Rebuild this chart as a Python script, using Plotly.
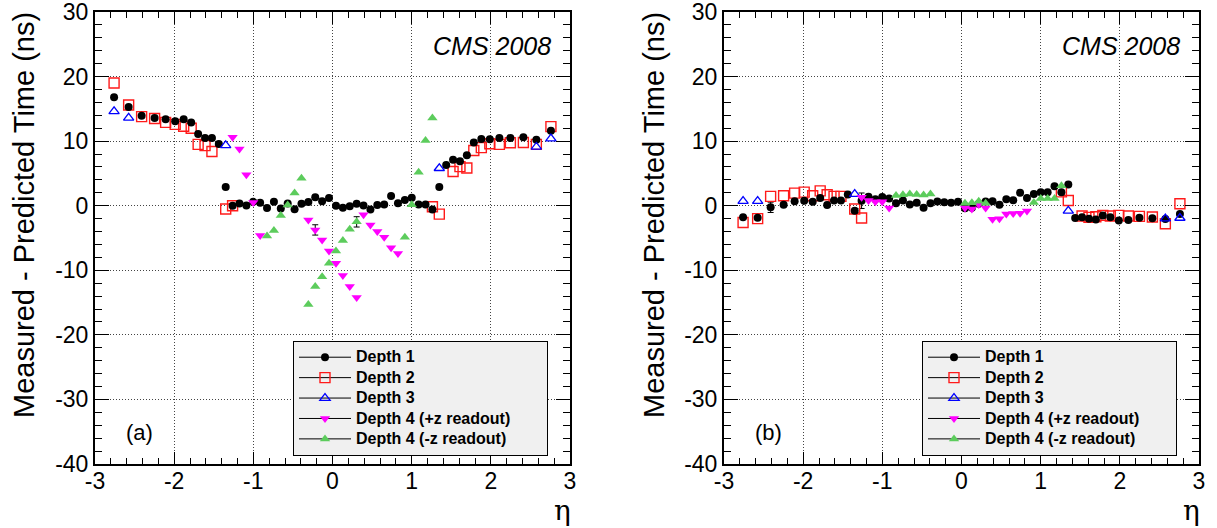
import plotly.graph_objects as go

# ---------------- data ----------------
# Panel (a)
a_d1_eta = [-2.759, -2.575, -2.411, -2.247, -2.108, -1.987, -1.880, -1.785, -1.697, -1.610, -1.523, -1.436,
            -1.349, -1.262, -1.175, -1.088, -1.001, -0.914, -0.827, -0.740, -0.653, -0.566, -0.479, -0.392,
            -0.305, -0.218, -0.131, -0.044, 0.044, 0.131, 0.218, 0.305, 0.392, 0.479, 0.566, 0.653, 0.740,
            0.827, 0.914, 1.001, 1.088, 1.175, 1.262, 1.349, 1.436, 1.523, 1.610, 1.697, 1.785, 1.880, 1.987,
            2.108, 2.247, 2.411, 2.575, 2.759]
a_d1_val = [16.8, 15.3, 13.95, 13.6, 13.4, 13.1, 13.4, 12.9, 11.1, 10.5, 10.5, 9.55,
            2.9, 0.0, 0.35, 0.05, 0.6, 0.45, -0.35, 0.6, -0.45, 0.35, -0.55, 0.3,
            0.56, 1.33, 0.7, 1.2, 0.0, -0.3, -0.1, 0.3, 0.05, -0.6, 0.1, 0.2, 1.5,
            0.4, 0.9, 1.25, 0.2, 0.2, -0.6, 2.9, 6.3, 7.1, 6.9, 7.8, 9.8, 10.35, 10.3,
            10.5, 10.5, 10.6, 10.2, 11.6]

a_d2_eta = [-2.759, -2.575, -2.411, -2.247, -2.108, -1.987, -1.880, -1.785, -1.697, -1.610, -1.523,
            -1.349, -1.262, 1.262, 1.349, 1.523, 1.610, 1.697, 1.785, 1.880, 1.987, 2.108, 2.247,
            2.411, 2.575, 2.759]
a_d2_val = [19.0, 15.6, 13.8, 13.5, 12.9, 12.6, 12.3, 12.0, 9.5, 9.3, 8.4,
            -0.5, 0.0, -0.15, -1.3, 5.3, 6.05, 5.85, 8.55, 9.0, 9.6, 9.5, 9.75,
            9.8, 9.5, 12.25]

a_d3_eta = [-2.759, -2.575, -1.349, 1.349, 2.575, 2.759]
a_d3_val = [14.6, 13.6, 9.35, 5.8, 9.1, 10.4]

a_d4p_eta = [-1.262, -1.175, -1.088, -1.001, -0.914, -0.305, -0.218, -0.131, -0.044, 0.044, 0.131,
             0.218, 0.305, 0.392, 0.479, 0.566, 0.653, 0.740, 0.827]
a_d4p_val = [10.6, 8.8, 4.8, 0.5, -4.6, -2.2, -3.75, -5.3, -7.0, -8.9, -10.8,
             -12.5, -14.2, -1.4, -3.0, -4.0, -4.9, -6.5, -7.4]

a_d4m_eta = [-0.827, -0.740, -0.653, -0.566, -0.479, -0.392, -0.305, -0.218, -0.131, -0.044, 0.044,
             0.131, 0.218, 0.305, 0.914, 1.001, 1.088, 1.175, 1.262]
a_d4m_val = [-4.7, -3.85, -1.5, 0.1, 1.95, 4.25, -15.3, -12.5, -11.0, -8.9, -7.0,
             -5.4, -3.65, -2.5, -4.9, 0.15, 5.2, 10.1, 13.6]

a_err_eta = [-0.218, 0.305]
a_err_val = [-3.75, -2.5]
a_err_size = [0.8, 0.8]

# Panel (b)
b_d1_eta = a_d1_eta
b_d1_val = [-1.8, -1.85, -0.25, 0.15, 0.7, 0.77, 0.6, 1.2, 0.1, 0.8, 0.8, 1.75,
            -0.77, 0.77, 1.4, 1.0, 1.35, 1.1, 0.4, 0.8, 0.2, 0.45, -0.3, 0.4,
            0.65, 0.55, 0.45, 0.6, -0.4, -0.3, 0.3, 0.65, 0.7, 0.15, 1.0, 0.85, 2.0,
            1.2, 1.8, 2.1, 2.1, 3.0, 2.1, 3.3, -1.9, -1.8, -2.0, -2.15, -1.5, -1.8, -2.3,
            -2.2, -1.85, -1.95, -2.05, -1.3]

b_d2_eta = a_d2_eta
b_d2_val = [-2.6, -2.0, 1.45, 1.55, 1.95, 2.1, 1.55, 2.3, 1.7, 1.45, 1.45,
            -0.5, -1.9, 2.15, 0.8, -1.6, -1.8, -1.7, -1.5, -1.6, -1.5, -1.6, -1.65,
            -1.75, -2.8, 0.3]

b_d3_eta = [-2.759, -2.575, -1.349, 1.349, 2.575, 2.759]
b_d3_val = [0.7, 0.7, 1.8, -0.8, -2.0, -1.9]

b_d4p_eta = [-1.262, -1.175, -1.088, -1.001, -0.914, 0.044, 0.131, 0.218, 0.305, 0.392, 0.479,
             0.566, 0.653, 0.740, 0.827]
b_d4p_val = [1.3, 0.8, 0.6, 0.6, -0.35, -0.35, -0.5, 0.2, -0.35, -2.1, -2.0,
             -1.3, -1.2, -1.15, -0.8]

b_d4m_eta = [-0.827, -0.740, -0.653, -0.566, -0.479, -0.392, 0.044, 0.131, 0.218, 0.305,
             0.914, 1.001, 1.088, 1.175, 1.262]
b_d4m_val = [1.6, 1.7, 1.8, 1.75, 1.65, 1.8, 0.4, 0.45, 0.7, 0.4,
             0.5, 1.1, 1.1, 1.1, 3.1]

b_err_eta = [-2.411, -1.262]
b_err_val = [-0.25, 0.77]
b_err_size = [0.8, 1.2]

legend_names = ["Depth 1", "Depth 2", "Depth 3", "Depth 4 (+z readout)", "Depth 4 (-z readout)"]
x_ticks = [-3, -2, -1, 0, 1, 2, 3]
x_ticktext = ["-3", "-2", "-1", "0", "1", "2", "3"]
y_ticks = [-40, -30, -20, -10, 0, 10, 20, 30]
y_ticktext = ["-40", "-30", "-20", "-10", "0", "10", "20", "30"]
panel_labels = ["(a)", "(b)"]
stamp = "CMS 2008"

# ---------------- styles ----------------
FONT = "Liberation Sans"
RED = "#ff1a1a"
BLUE = "#0000ff"
MAG = "#ff00ff"
GRN = "#5ccc5c"
styles = [
    dict(symbol="circle", size=8, color="black", line=dict(width=0)),
    dict(symbol="square-open", size=10, color=RED, line=dict(width=1.4, color=RED)),
    dict(symbol="triangle-up-open", size=9, color=BLUE, line=dict(width=1.3, color=BLUE)),
    dict(symbol="triangle-down", size=9, color=MAG, line=dict(width=0)),
    dict(symbol="triangle-up", size=9, color=GRN, line=dict(width=0)),
]

W, H = 1217, 528
def px(v):
    return v / W
def py(v):
    return 1 - v / H

xa_dom = [px(95), px(570)]
xb_dom = [px(724), px(1199)]
y_dom = [py(464), py(12)]

fig = go.Figure()

panels = [
    ("x", "y", "legend",
     [(a_d2_eta, a_d2_val, 1), (a_d1_eta, a_d1_val, 0), (a_d3_eta, a_d3_val, 2),
      (a_d4p_eta, a_d4p_val, 3), (a_d4m_eta, a_d4m_val, 4)],
     (a_err_eta, a_err_val, a_err_size)),
    ("x2", "y2", "legend2",
     [(b_d2_eta, b_d2_val, 1), (b_d1_eta, b_d1_val, 0), (b_d3_eta, b_d3_val, 2),
      (b_d4p_eta, b_d4p_val, 3), (b_d4m_eta, b_d4m_val, 4)],
     (b_err_eta, b_err_val, b_err_size)),
]

PAD = "\u00a0" * 7  # empty room at the right of the legend box, as in the reference

for xr, yr, lg, series, err in panels:
    ex, ey, es = err
    fig.add_trace(go.Scatter(x=ex, y=ey, xaxis=xr, yaxis=yr, mode="markers",
                             marker=dict(size=1, opacity=0), showlegend=False, hoverinfo="skip",
                             error_y=dict(type="data", array=es, visible=True, color="black",
                                          thickness=1, width=3)))
    for ex_, ey_, si in series:
        fig.add_trace(go.Scatter(x=ex_, y=ey_, xaxis=xr, yaxis=yr, mode="markers",
                                 marker=styles[si], showlegend=False, cliponaxis=False))
    # legend entries
    for si, nm in enumerate(legend_names):
        fig.add_trace(go.Scatter(x=[None], y=[None], xaxis=xr, yaxis=yr, mode="lines+markers",
                                 name='<span style="font-size:16px"><b>' + nm + "</b>" + PAD + "</span>",
                                 marker=styles[si],
                                 line=dict(color="black", width=1), legend=lg, showlegend=True))

axis_common = dict(
    ticks="inside", tickcolor="black", tickwidth=1,
    showline=True, linewidth=2, linecolor="black", mirror="ticks",
    showgrid=True, gridcolor="#444444", gridwidth=1, griddash="1px,2px",
    zeroline=False, tickfont=dict(family=FONT, size=23, color="black"),
    ticklabeloverflow="allow",
)

for xname, dom, yname in [("xaxis", xa_dom, "y"), ("xaxis2", xb_dom, "y2")]:
    fig.layout[xname] = dict(axis_common, domain=dom, range=[-3, 3], tickmode="array",
                             tickvals=x_ticks, ticktext=x_ticktext, ticklen=12, anchor=yname,
                             ticklabelstandoff=-5,
                             minor=dict(ticks="inside", dtick=0.2, ticklen=6, tickcolor="black",
                                        showgrid=False))
for yname, xname in [("yaxis", "x"), ("yaxis2", "x2")]:
    fig.layout[yname] = dict(axis_common, domain=y_dom, range=[-40, 30], tickmode="array",
                             tickvals=y_ticks, ticktext=y_ticktext, ticklen=14, anchor=xname,
                             minor=dict(ticks="inside", dtick=2, ticklen=7, tickcolor="black",
                                        showgrid=False))

leg_common = dict(bgcolor="#f0f0f0", bordercolor="black", borderwidth=1,
                  font=dict(family=FONT, size=13.4, color="black"),
                  xanchor="left", yanchor="top", itemwidth=52, tracegroupgap=0)
fig.layout["legend"] = dict(leg_common, x=px(293), y=py(341))
fig.layout["legend2"] = dict(leg_common, x=px(922), y=py(341))

annotations = []
for i, off in enumerate([0, 629]):
    annotations.append(dict(text="Measured - Predicted Time (ns)", xref="paper", yref="paper",
                            x=px(24 + off + (1 if i else 0)), y=py(10), xanchor="center", yanchor="top",
                            textangle=-90, showarrow=False,
                            font=dict(family=FONT, size=29, color="black")))
    annotations.append(dict(text="η", xref="paper", yref="paper", x=px(573 + off), y=py(510),
                            xanchor="right", yanchor="middle", showarrow=False,
                            font=dict(family="DejaVu Serif", size=28, color="black")))
    annotations.append(dict(text="<i>" + stamp + "</i>", xref="paper", yref="paper",
                            x=px(553 + off), y=py(46), xanchor="right", yanchor="middle",
                            showarrow=False, font=dict(family=FONT, size=25, color="black")))
    annotations.append(dict(text=panel_labels[i], xref="paper", yref="paper",
                            x=px(124 + off), y=py(432), xanchor="left", yanchor="middle",
                            showarrow=False, font=dict(family=FONT, size=22, color="black")))

fig.update_layout(width=W, height=H, paper_bgcolor="white", plot_bgcolor="white",
                  margin=dict(l=0, r=0, t=0, b=0, autoexpand=False),
                  annotations=annotations, showlegend=True)

# remove the default 8px page margin so the figure fills the window exactly
fig.write_html("out.html", config={"displayModeBar": False},
               post_script="document.body.style.margin='0px';")
